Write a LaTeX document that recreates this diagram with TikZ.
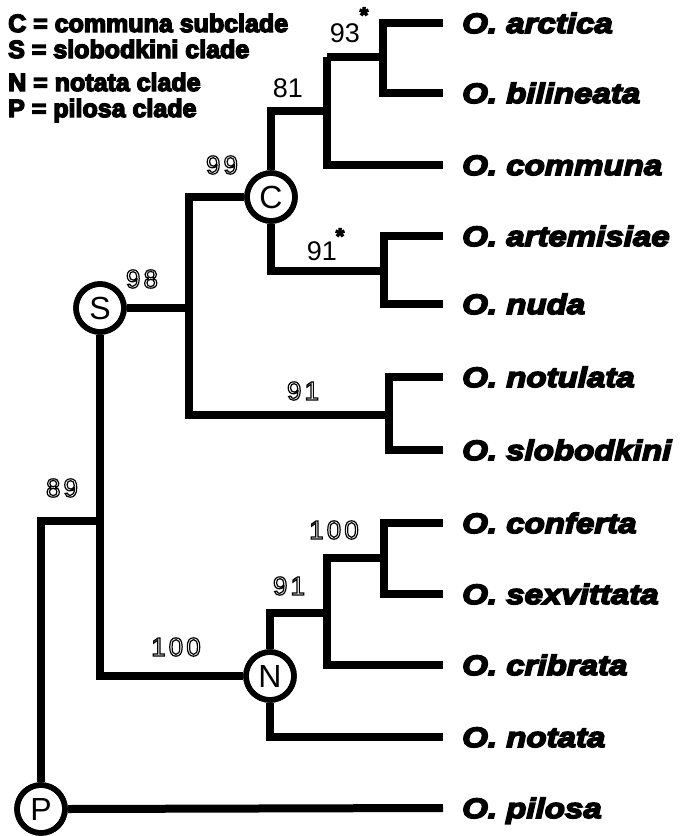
\documentclass[tikz,border=0pt]{standalone}
\usepackage{fontspec}
\setmainfont{Liberation Sans}
\newfontfamily\leaffont{Liberation Sans Bold Italic}[FakeStretch=1.18]
\newfontfamily\legfont{Liberation Sans Bold}
\newfontfamily\olfont{Liberation Sans}[LetterSpace=12]
\newcommand{\trset}[2]{\special{pdf:literal direct #1 Tr #2 w}}
\newcommand{\trreset}{\special{pdf:literal direct 0 Tr}}
\begin{document}
\begin{tikzpicture}[x=1pt,y=-1pt,
  branch/.style={line width=8pt,line join=miter},
  clade/.style={circle,draw,line width=5.5pt,fill=white,minimum size=48pt,inner sep=0pt,font=\fontsize{32}{32}\selectfont},
  leaf/.style={anchor=base west,inner sep=0pt,font=\leaffont\fontsize{28}{28}\selectfont,
    execute at begin node={\trset{2}{1.6}}, execute at end node={\trreset}},
  legend/.style={anchor=base west,inner sep=0pt,font=\legfont\fontsize{25}{25}\selectfont,
    execute at begin node={\trset{2}{1.4}}, execute at end node={\trreset}},
  bs/.style={inner sep=0pt,font=\fontsize{27}{27}\selectfont},
  ol/.style={inner sep=0pt,font=\olfont\fontsize{26}{26}\selectfont,
    execute at begin node={\trset{1}{1.2}}, execute at end node={\trreset}},
  ast/.style={inner sep=0pt,font=\bfseries\fontsize{22}{22}\selectfont,
    execute at begin node={\trset{2}{1.2}}, execute at end node={\trreset}}]
\useasboundingbox (0,0) rectangle (680,836);

% legend
\node[legend] (l1) at (8,32) {C = communa subclade};
\node[legend] (l2) at (8,58) {S = slobodkini clade};
\node[legend] (l3) at (8,91) {N = notata clade};
\node[legend] (l4) at (8,117) {P = pilosa clade};

% leaf ends
\foreach \n/\y in {arc/23,bil/93,com/165,art/236,nud/304,ntl/377,slo/450,con/523,sex/594,cri/665,nta/737,pil/808}{
  \coordinate (e\n) at (443,\y);
}
% leaf labels
\node[leaf] (tarc) at (462,33) {O. arctica};
\node[leaf] (tbil) at (462,103) {O. bilineata};
\node[leaf] (tcom) at (462,175) {O. communa};
\node[leaf] (tart) at (462,246) {O. artemisiae};
\node[leaf] (tnud) at (462,314) {O. nuda};
\node[leaf] (tntl) at (462,387) {O. notulata};
\node[leaf] (tslo) at (462,460) {O. slobodkini};
\node[leaf] (tcon) at (462,533) {O. conferta};
\node[leaf] (tsex) at (462,604) {O. sexvittata};
\node[leaf] (tcri) at (462,675) {O. cribrata};
\node[leaf] (tnta) at (462,747) {O. notata};
\node[leaf] (tpil) at (462,818) {O. pilosa};

% internal coordinates
\coordinate (n93) at (383,57);
\coordinate (n81) at (327,111);
\coordinate (n91a) at (384,271);
\coordinate (n99) at (189,308);
\coordinate (n91s) at (389,415);
\coordinate (n89) at (100,521);
\coordinate (nc100) at (384,558);
\coordinate (n91n) at (327,613);

% clade circles (placed first for naming)
\node[clade] (C) at (271,197) {C};
\node[clade] (S) at (100,308) {S};
\node[clade] (N) at (270,676) {N};
\node[clade] (P) at (41,809) {P};

% branches
\draw[branch] (earc) -- (earc -| n93) -- (ebil -| n93) -- (ebil);
\draw[branch] (n93) -- (n93 -| n81);
\draw[branch] (n93 -| n81) -- (ecom -| n81) -- (ecom);
\draw[branch] (n81) -- (n81 -| C) -- (C.north);
\draw[branch] (eart) -- (eart -| n91a) -- (enud -| n91a) -- (enud);
\draw[branch] (C.south) -- (C.south |- n91a) -- (n91a);
\draw[branch] (C.west) -- (C.west -| n99) -- (n99 |- n91s) -- (n91s);
\draw[branch] (S.east) -- (n99);
\draw[branch] (entl) -- (entl -| n91s) -- (eslo -| n91s) -- (eslo);
\draw[branch] (S.south) -- (S.south |- N) -- (N.west);
\draw[branch] (P.north) -- (P.north |- n89) -- (n89);
\draw[branch] (P.east) -- (epil);
\draw[branch] (econ) -- (econ -| nc100) -- (esex -| nc100) -- (esex);
\draw[branch] (nc100) -- (nc100 -| n91n) -- (ecri -| n91n) -- (ecri);
\draw[branch] (N.north) -- (N.north |- n91n) -- (n91n);
\draw[branch] (N.south) -- (N.south |- enta) -- (enta);

% circle rims drawn over the branch ends
\foreach \c in {C,S,N,P}{
  \draw[line width=5.5pt] (\c.center) circle[radius=24pt];
}

% support values (solid)
\node[bs] (b93) at (345,33) {93};
\node[ast] (a93) at (364,15) {*};
\node[bs] (b81) at (288,88) {81};
\node[bs] (b91a) at (322,251) {91};
\node[ast] (a91a) at (340,236) {*};

% support values (outlined)
\node[ol] (o99) at (222,165) {99};
\node[ol] (o98) at (142,279) {98};
\node[ol] (o91s) at (303,391) {91};
\node[ol] (o89) at (62,488) {89};
\node[ol] (o100n) at (176,647) {100};
\node[ol] (o91n) at (289,586) {91};
\node[ol] (o100c) at (334,530) {100};
\end{tikzpicture}
\end{document}
